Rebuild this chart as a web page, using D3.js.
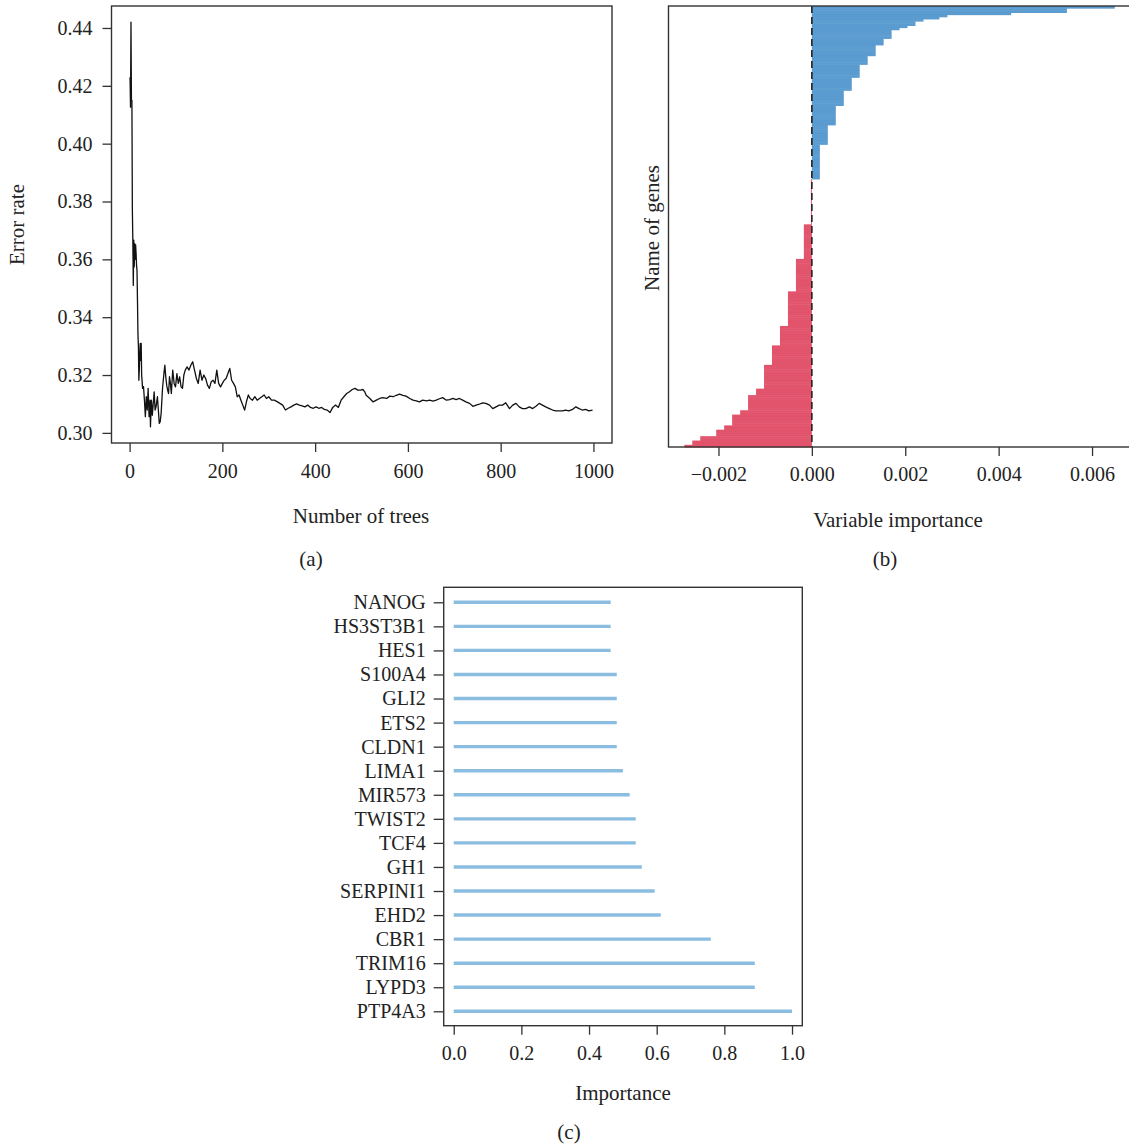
<!DOCTYPE html>
<html>
<head>
<meta charset="utf-8">
<script src="https://cdn.jsdelivr.net/npm/d3@7"></script>
<style>
body { margin: 0; background: #fff; }
text { font-family: "Liberation Serif", "DejaVu Serif", serif; fill: #222; }
</style>
</head>
<body>
<svg id="chart" width="1129" height="1147"></svg>
<script>
// ---- (a) OOB error rate vs number of trees
const trees = [
  1, 2, 3, 4, 5, 6, 7, 8, 9, 10,
  11, 12, 13, 14, 15, 16, 17, 18, 19, 20,
  21, 22, 23, 24, 25, 26, 28, 30, 32, 34,
  36, 38, 40, 42, 44, 45, 47, 49, 51, 53,
  55, 57, 60, 62, 64, 66, 68, 71, 74, 76,
  78, 80, 82, 84, 86, 88, 90, 93, 96, 99,
  102, 105, 108, 111, 114, 117, 120, 124, 128, 132,
  136, 140, 144, 148, 152, 156, 160, 164, 168, 172,
  176, 180, 184, 188, 192, 196, 200, 204, 208, 212,
  216, 220, 224, 228, 232, 236, 240, 244, 248, 252,
  256, 260, 265, 270, 275, 280, 285, 290, 295, 300,
  306, 312, 318, 324, 330, 336, 342, 348, 354, 360,
  366, 372, 378, 384, 390, 396, 402, 408, 414, 420,
  426, 432, 438, 444, 450, 456, 462, 468, 474, 480,
  486, 492, 498, 503, 507, 510, 518, 525, 532, 539,
  546, 554, 561, 568, 575, 582, 589, 596, 604, 611,
  618, 625, 632, 640, 647, 654, 661, 668, 675, 683,
  690, 697, 704, 711, 718, 725, 733, 740, 747, 754,
  761, 768, 776, 783, 790, 797, 804, 811, 819, 826,
  833, 840, 847, 854, 862, 869, 876, 883, 890, 897,
  905, 912, 919, 926, 933, 940, 947, 955, 962, 969,
  976, 983, 990, 998
]
const errorRate = [
  .4230, .4126, .4420, .4149, .4150, .3769, .3666, .3510, .3666, .3574,
  .3654, .3600, .3650, .3620, .3580, .3562, .3459, .3344, .3300, .3182,
  .3220, .3280, .3309, .3250, .3309, .3200, .3154, .3160, .3113, .3056,
  .3125, .3079, .3154, .3056, .3113, .3021, .3113, .3061, .3102, .3142,
  .3079, .3090, .3125, .3079, .3033, .3039, .3067, .3154, .3205, .3234,
  .3194, .3165, .3148, .3136, .3194, .3171, .3136, .3217, .3171, .3159,
  .3205, .3171, .3194, .3159, .3154, .3200, .3217, .3228, .3217, .3234,
  .3246, .3217, .3188, .3171, .3217, .3182, .3200, .3188, .3165, .3154,
  .3177, .3182, .3171, .3217, .3171, .3159, .3171, .3182, .3188, .3205,
  .3223, .3182, .3171, .3159, .3125, .3131, .3113, .3096, .3079, .3108,
  .3131, .3119, .3113, .3125, .3113, .3119, .3125, .3131, .3119, .3125,
  .3113, .3113, .3108, .3102, .3096, .3079, .3085, .3090, .3096, .3100,
  .3096, .3093, .3090, .3096, .3088, .3085, .3090, .3085, .3088, .3081,
  .3079, .3070, .3088, .3096, .3088, .3113, .3125, .3136, .3142, .3150,
  .3154, .3148, .3148, .3150, .3142, .3130, .3119, .3107, .3113, .3119,
  .3122, .3119, .3127, .3125, .3130, .3134, .3130, .3127, .3119, .3113,
  .3111, .3107, .3113, .3111, .3113, .3110, .3113, .3118, .3122, .3113,
  .3115, .3119, .3115, .3119, .3113, .3107, .3102, .3092, .3096, .3099,
  .3104, .3102, .3096, .3084, .3090, .3096, .3096, .3104, .3084, .3096,
  .3102, .3090, .3084, .3084, .3090, .3084, .3092, .3102, .3096, .3090,
  .3084, .3079, .3076, .3076, .3076, .3079, .3076, .3081, .3090, .3084,
  .3079, .3081, .3076, .3079
]
const treeTicks = [0, 200, 400, 600, 800, 1000]
const errTicks = [0.30, 0.32, 0.34, 0.36, 0.38, 0.40, 0.42, 0.44]

// ---- (b) sorted variable importance, top to bottom: value and how many genes share it
const impValues = [
  0.006487, 0.005462, 0.004268, 0.002902, 0.002731, 0.002390, 0.002219, 0.002048, 0.001878, 0.001707,
  0.001536, 0.001366, 0.001195, 0.001024, 0.000854, 0.000683, 0.000512, 0.000341, 0.000171,
  -0.00002,
  -0.000171, -0.000341, -0.000512, -0.000683, -0.000854, -0.001024, -0.001195, -0.001366, -0.001536,
  -0.001707, -0.001878, -0.002048, -0.002390, -0.002560, -0.002731
]
const impCounts = [
  1, 2, 1, 1, 1, 1, 2, 1, 1, 4,
  3, 5, 4, 6, 6, 7, 9, 9, 16,
  21,
  16, 15, 16, 9, 9, 11, 3, 7, 2,
  5, 2, 3, 2, 2, 1
]
const impTicks = [-0.002, 0, 0.002, 0.004, 0.006]

// ---- (c) top genes
const genes = ['NANOG', 'HS3ST3B1', 'HES1', 'S100A4', 'GLI2', 'ETS2', 'CLDN1', 'LIMA1', 'MIR573',
  'TWIST2', 'TCF4', 'GH1', 'SERPINI1', 'EHD2', 'CBR1', 'TRIM16', 'LYPD3', 'PTP4A3']
const geneImportance = [0.464, 0.464, 0.464, 0.482, 0.482, 0.482, 0.482, 0.500, 0.520,
  0.538, 0.538, 0.556, 0.594, 0.612, 0.760, 0.890, 0.890, 1.000]
const geneTicks = [0, 0.2, 0.4, 0.6, 0.8, 1.0]

const svg = d3.select('#chart')
const tickFont = 20
const titleFont = 21
const axisColor = '#333'

function styleAxis(g) {
  g.select('.domain').remove()
  g.selectAll('.tick line').attr('stroke', axisColor).attr('stroke-width', 1.3)
  g.selectAll('.tick text').style('font-size', tickFont + 'px').attr('fill', '#222')
}

function box(x0, y0, x1, y1) {
  svg.append('rect')
    .attr('x', x0).attr('y', y0)
    .attr('width', x1 - x0).attr('height', y1 - y0)
    .attr('fill', 'none').attr('stroke', axisColor).attr('stroke-width', 1.4)
}

function label(txt, x, y, rotate) {
  const t = svg.append('text').text(txt)
    .attr('text-anchor', 'middle')
    .style('font-size', titleFont + 'px')
  if (rotate) t.attr('transform', `translate(${x},${y}) rotate(-90)`)
  else t.attr('x', x).attr('y', y)
  return t
}

// ================= panel (a)
const A = {left: 111.5, right: 612, top: 6, bottom: 443}
const xA = d3.scaleLinear().domain([-39, 1040]).range([A.left, A.right])
const yA = d3.scaleLinear().domain([0.2965, 0.4476]).range([A.bottom, A.top])

svg.append('g')
  .attr('transform', `translate(0,${A.bottom})`)
  .call(d3.axisBottom(xA).tickValues(treeTicks).tickSize(9).tickPadding(12).tickFormat(d3.format('d')))
  .call(styleAxis)
svg.append('g')
  .attr('transform', `translate(${A.left},0)`)
  .call(d3.axisLeft(yA).tickValues(errTicks).tickSize(9).tickPadding(10).tickFormat(d3.format('.2f')))
  .call(styleAxis)

const errLine = d3.line()
  .x((d, i) => xA(trees[i]))
  .y(d => yA(d))
svg.append('path')
  .datum(errorRate)
  .attr('d', errLine)
  .attr('fill', 'none')
  .attr('stroke', '#111')
  .attr('stroke-width', 1.3)
  .attr('stroke-linejoin', 'round')
box(A.left, A.top, A.right, A.bottom)

label('Error rate', 24, (A.top + A.bottom) / 2, true)
label('Number of trees', 361, 523)
label('(a)', 311, 566)

// ================= panel (b)
const B = {left: 668.5, right: 1128, top: 6, bottom: 447}
const bars = []
impValues.forEach((v, k) => {
  for (let j = 0; j < impCounts[k]; j++) bars.push({id: bars.length, value: v})
})
const xB = d3.scaleLinear().domain([-0.00307, 0.00677]).range([B.left, B.right])
const yB = d3.scaleBand().domain(bars.map(d => d.id)).range([B.top, B.bottom]).padding(0)

svg.append('g')
  .selectAll('rect')
  .data(bars)
  .join('rect')
  .attr('x', d => xB(Math.min(0, d.value)))
  .attr('width', d => Math.abs(xB(d.value) - xB(0)))
  .attr('y', d => yB(d.id))
  .attr('height', yB.bandwidth() + 0.5)
  .attr('fill', d => d.value > 0 ? '#5a9bd0' : '#e2546c')

svg.append('line')
  .attr('x1', xB(0)).attr('x2', xB(0))
  .attr('y1', B.top).attr('y2', B.bottom)
  .attr('stroke', '#222').attr('stroke-width', 1.6)
  .attr('stroke-dasharray', '7,4')

svg.append('g')
  .attr('transform', `translate(0,${B.bottom})`)
  .call(d3.axisBottom(xB).tickValues(impTicks).tickSize(9).tickPadding(11).tickFormat(d3.format('.3f')))
  .call(styleAxis)
box(B.left, B.top, B.right + 2, B.bottom)

label('Name of genes', 659, 228, true)
label('Variable importance', 898, 527)
label('(b)', 885, 566)

// ================= panel (c)
const C = {left: 443.7, right: 802.3, top: 587.3, bottom: 1025.7}
const xC = d3.scaleLinear().domain([-0.0296, 1.0304]).range([C.left, C.right])
const yC = d3.scalePoint().domain(genes).range([C.top + 15, C.bottom - 14.4])

svg.append('g')
  .selectAll('line')
  .data(genes)
  .join('line')
  .attr('x1', xC(0))
  .attr('x2', (d, i) => xC(geneImportance[i]))
  .attr('y1', d => yC(d))
  .attr('y2', d => yC(d))
  .attr('stroke', '#8bbde0')
  .attr('stroke-width', 3.4)

svg.append('g')
  .attr('transform', `translate(${C.left},0)`)
  .call(d3.axisLeft(yC).tickSize(10).tickPadding(8))
  .call(styleAxis)
svg.append('g')
  .attr('transform', `translate(0,${C.bottom})`)
  .call(d3.axisBottom(xC).tickValues(geneTicks).tickSize(9).tickPadding(11).tickFormat(d3.format('.1f')))
  .call(styleAxis)
box(C.left, C.top, C.right, C.bottom)

label('Importance', 623, 1100)
label('(c)', 569, 1139)
</script>
</body>
</html>
